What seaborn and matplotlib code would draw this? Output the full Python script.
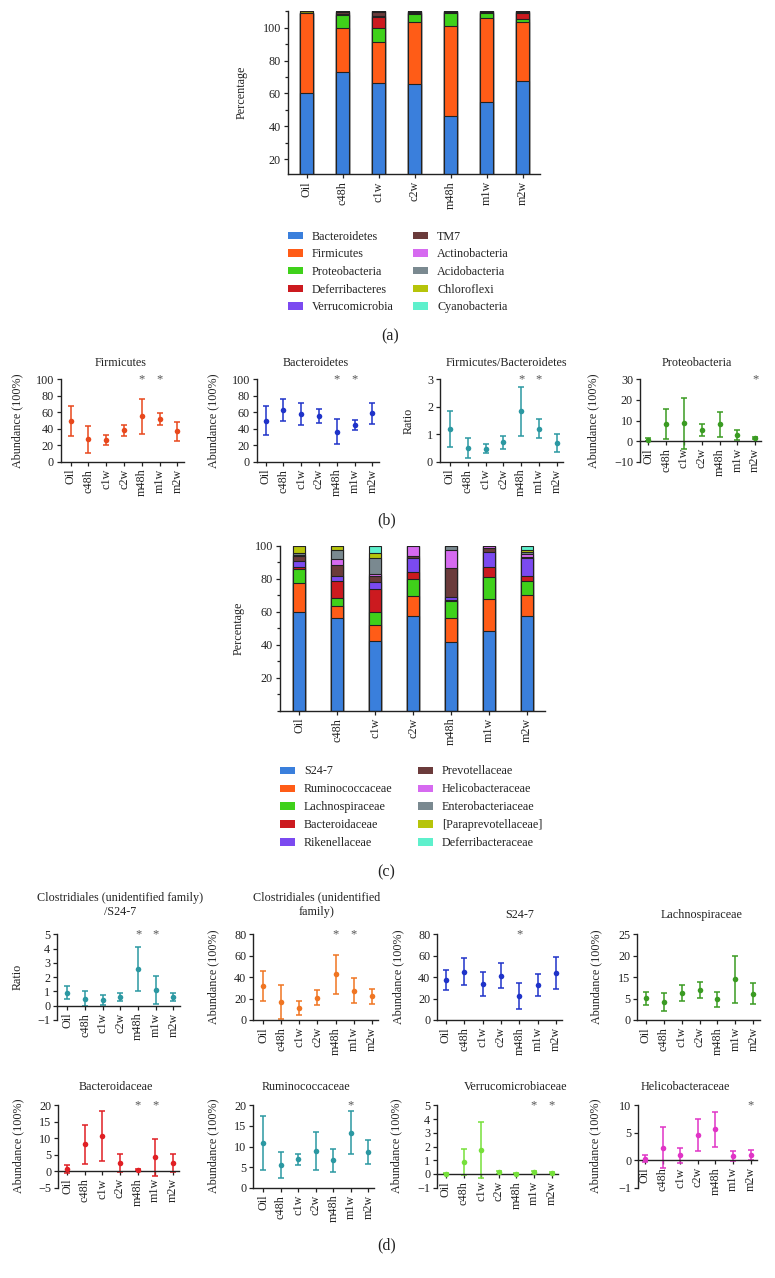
import numpy as np
import seaborn as sns
import matplotlib.pyplot as plt
from matplotlib.patches import Patch
from matplotlib.ticker import MultipleLocator

# canvas size in pixels (dpi 100)
W, H = 775, 1278
FS = 8.7

GROUPS = ["Oil", "c48h", "c1w", "c2w", "m48h", "m1w", "m2w"]

# (a) phylum composition, percentage per group
PHYLA = ["Bacteroidetes", "Firmicutes", "Proteobacteria", "Deferribacteres", "Verrucomicrobia",
         "TM7", "Actinobacteria", "Acidobacteria", "Chloroflexi", "Cyanobacteria"]
PHYLA_COLORS = ["#3a7fdc", "#ff5c17", "#3fd11a", "#cc1a1f", "#7b4af0",
                "#6b3b3b", "#d66af0", "#7a8990", "#b6c40a", "#5ef0cc"]
PHYLA_PCT = [
    [60.0, 73.1, 66.3, 65.7, 46.1, 54.6, 67.5],
    [48.9, 26.9, 25.2, 37.9, 54.7, 51.5, 36.1],
    [0.0, 7.9, 8.5, 4.9, 8.1, 2.6, 1.5],
    [0.0, 0.0, 6.5, 0.3, 0.2, 0.3, 3.9],
    [0.0, 0.6, 0.8, 0.2, 0.2, 0.2, 0.3],
    [0.0, 0.8, 2.5, 0.5, 0.5, 0.5, 0.5],
    [0.0, 0.3, 0.2, 0.3, 0.2, 0.2, 0.2],
    [0.0, 0.2, 0.0, 0.2, 0.0, 0.0, 0.0],
    [1.1, 0.2, 0.0, 0.0, 0.0, 0.0, 0.0],
    [0.0, 0.0, 0.0, 0.0, 0.0, 0.0, 0.0],
]

# (c) family composition, percentage per group
FAMILIES = ["S24-7", "Ruminococcaceae", "Lachnospiraceae", "Bacteroidaceae", "Rikenellaceae",
            "Prevotellaceae", "Helicobacteraceae", "Enterobacteriaceae", "[Paraprevotellaceae]",
            "Deferribacteraceae"]
FAMILY_PCT = [
    [60.2, 56.2, 42.6, 57.6, 41.6, 48.1, 57.8],
    [17.6, 7.4, 9.5, 12.3, 14.6, 19.6, 12.5],
    [8.5, 4.7, 7.7, 9.9, 10.3, 13.3, 8.5],
    [1.2, 10.7, 13.9, 4.2, 0.8, 6.1, 3.2],
    [3.2, 2.8, 4.7, 8.5, 2.0, 9.1, 10.5],
    [3.2, 6.7, 3.4, 1.4, 17.6, 2.6, 1.0],
    [0.4, 3.4, 1.0, 6.1, 10.7, 1.2, 1.8],
    [1.3, 5.7, 9.7, 0.0, 2.4, 0.0, 0.8],
    [4.4, 2.4, 3.4, 0.0, 0.0, 0.0, 1.2],
    [0.0, 0.0, 4.1, 0.0, 0.0, 0.0, 2.4],
]

# (b) and (d): mean and SD per group
FIRM_MEAN = [49, 27, 26, 38, 55, 52, 37]
FIRM_SD = [18, 16.5, 6, 7, 21, 7, 11.5]
BACT_MEAN = [49.5, 63, 58, 55.5, 36.5, 44.5, 58.5]
BACT_SD = [17.5, 13, 13.5, 8, 15.5, 6, 12.5]
FB_MEAN = [1.18, 0.5, 0.48, 0.71, 1.83, 1.2, 0.69]
FB_SD = [0.66, 0.38, 0.16, 0.24, 0.9, 0.35, 0.33]
PROTEO_MEAN = [0.7, 8.1, 8.7, 5.3, 8.2, 2.8, 1.3]
PROTEO_SD = [0.8, 7.3, 12.3, 2.8, 6.0, 2.5, 0.5]
CS_MEAN = [0.9, 0.5, 0.4, 0.58, 2.57, 1.1, 0.6]
CS_SD = [0.45, 0.5, 0.33, 0.28, 1.52, 1.0, 0.28]
CLOST_MEAN = [32, 17, 11, 21, 42.5, 27.5, 22]
CLOST_SD = [14, 16, 6.3, 7, 18.3, 11.5, 7.3]
S24_MEAN = [37.5, 45, 33.3, 41.5, 22.2, 32.5, 44.2]
S24_SD = [9.5, 12.5, 11.3, 12, 12.3, 10, 14.8]
LACHNO_MEAN = [5.1, 4.1, 6.4, 7.0, 4.8, 9.5, 6.1]
LACHNO_SD = [1.55, 2.1, 1.85, 1.85, 1.7, 5.5, 2.45]
BACTEROIDACEAE_MEAN = [0.6, 8.2, 10.8, 2.6, 0.4, 4.2, 2.4]
BACTEROIDACEAE_SD = [1.2, 5.9, 7.6, 2.7, 0.4, 5.5, 2.75]
RUMINO_MEAN = [10.8, 5.5, 6.9, 8.9, 6.7, 13.3, 8.7]
RUMINO_SD = [6.5, 3.2, 1.3, 4.5, 2.8, 5.2, 2.9]
VERRUCO_MEAN = [0.02, 0.87, 1.75, 0.12, 0.02, 0.12, 0.06]
VERRUCO_SD = [0.02, 0.97, 2.07, 0.1, 0.02, 0.12, 0.06]
HELICO_MEAN = [0.3, 2.3, 0.9, 4.6, 5.6, 0.8, 1.0]
HELICO_SD = [0.7, 3.7, 1.4, 2.9, 3.2, 0.9, 0.9]

sns.set_theme(style="ticks")
plt.rcParams["font.family"] = ["Liberation Serif", "DejaVu Serif"]

fig = plt.figure(figsize=(W / 100, H / 100), dpi=100)


def px_box(left, top, right, bottom):
    return [left / W, 1 - bottom / H, (right - left) / W, (bottom - top) / H]


def fig_text(x, y, s, **kw):
    fig.text(x / W, 1 - y / H, s, ha="center", va="center", fontsize=kw.pop("fontsize", FS),
             color="#222", **kw)


def style_axes(ax):
    sns.despine(ax=ax)
    for side in ("left", "bottom"):
        ax.spines[side].set_linewidth(1.0)
        ax.spines[side].set_color("#222")
    ax.tick_params(axis="both", which="major", length=3, width=0.9, pad=2,
                   labelsize=FS, colors="#222")
    ax.tick_params(axis="both", which="minor", length=2.5, width=0.9, colors="#222")
    ax.tick_params(axis="x", rotation=90)
    ax.set_xlabel("")
    ax.set_ylabel("")


def stacked_panel(box, values, colors, xlim, ylim, width):
    ax = fig.add_axes(px_box(*box))
    tops = np.cumsum(values, axis=0)
    # draw from the tallest cumulative layer down so each layer shows its own slice
    for k in range(len(values) - 1, -1, -1):
        sns.barplot(x=GROUPS, y=tops[k], color=colors[k], saturation=1, width=width,
                    edgecolor="#222", linewidth=0.8, ax=ax)
    ax.set_xlim(xlim)
    ax.set_ylim(ylim)
    ax.set_yticks(range(20, 101, 20))
    ax.yaxis.set_minor_locator(MultipleLocator(10))
    style_axes(ax)
    return ax


def legend_column(names, colors, x, ytop, spacing):
    handles = [Patch(facecolor=c, edgecolor="none") for c in colors]
    fig.legend(handles, names, loc="upper left", bbox_to_anchor=(x / W, 1 - ytop / H),
               frameon=False, borderpad=0, borderaxespad=0, fontsize=FS,
               handlelength=1.24, handleheight=0.55, handletextpad=0.75,
               labelspacing=spacing, labelcolor="#222")


def error_panel(box, xlim, mean, sd, color, ylim, yticks, stars, ytick_labels=None):
    ax = fig.add_axes(px_box(*box))
    ax.errorbar(GROUPS, mean, yerr=sd, fmt="none", ecolor=color, elinewidth=1.1,
                capsize=2, capthick=1.1, zorder=2)
    sns.scatterplot(x=GROUPS, y=mean, color=color, s=16, linewidth=0, ax=ax, zorder=3)
    ax.set_xlim(xlim)
    ax.set_ylim(ylim)
    ax.set_yticks(yticks, ytick_labels if ytick_labels else [f"{t:g}".replace("-", "\u2212") for t in yticks])
    if ylim[0] < 0:
        ax.spines["bottom"].set_position(("data", 0))
    style_axes(ax)
    for i in stars:
        ax.text(i, ylim[1], "*", ha="center", va="center", fontsize=9, color="#555",
                clip_on=False)
    return ax


# ---- (a) phylum stacked bars ----
stacked_panel((288, 10.5, 540, 174.3), PHYLA_PCT, PHYLA_COLORS, (-0.52, 6.48), (10.7, 110.5), 0.35)
fig_text(241.7, 92, "Percentage", rotation=90)
legend_column(PHYLA[:5], PHYLA_COLORS[:5], 288, 230.5, 0.47)
legend_column(PHYLA[5:], PHYLA_COLORS[5:], 413, 230.5, 0.47)
fig_text(390, 336, "(a)", fontsize=11.5)

# ---- (b) phylum level abundances ----
ROW_B = (379.3, 461.7)
error_panel((61, ROW_B[0], 183.7, ROW_B[1]), (-0.545, 6.35), FIRM_MEAN, FIRM_SD, "#e8481c",
            (0, 100), range(0, 101, 20), [4, 5])
error_panel((256.7, ROW_B[0], 378.6, ROW_B[1]), (-0.5, 6.35), BACT_MEAN, BACT_SD, "#1f33c9",
            (0, 100), range(0, 101, 20), [4, 5])
error_panel((440, ROW_B[0], 563, ROW_B[1]), (-0.56, 6.35), FB_MEAN, FB_SD, "#2b98a2",
            (0, 3), range(0, 4), [4, 5])
error_panel((640, ROW_B[0], 761.4, ROW_B[1]), (-0.47, 6.35), PROTEO_MEAN, PROTEO_SD, "#3a9b22",
            (-10, 30), range(-10, 31, 10), [6])
for x, t in [(121, "Firmicutes"), (315.5, "Bacteroidetes"),
             (506.7, "Firmicutes/Bacteroidetes"), (697, "Proteobacteria")]:
    fig_text(x, 362.7, t)
for x, t in [(17, "Abundance (100%)"), (213.3, "Abundance (100%)"),
             (408.3, "Ratio"), (593.3, "Abundance (100%)")]:
    fig_text(x, 420.5, t, rotation=90)
fig_text(387, 520, "(b)", fontsize=11.5)

# ---- (c) family stacked bars ----
stacked_panel((280, 546, 545, 710.7), FAMILY_PCT, PHYLA_COLORS, (-0.5, 6.47), (0, 100), 0.32)
fig_text(238.3, 628, "Percentage", rotation=90)
legend_column(FAMILIES[:5], PHYLA_COLORS[:5], 280, 765.5, 0.49)
legend_column(FAMILIES[5:], PHYLA_COLORS[5:], 418, 765.5, 0.49)
fig_text(386, 872, "(c)", fontsize=11.5)

# ---- (d) family level abundances ----
ROW_D1 = (934.3, 1020)
error_panel((57.3, ROW_D1[0], 179.6, ROW_D1[1]), (-0.57, 6.35), CS_MEAN, CS_SD, "#2b98a2",
            (-1, 5), range(-1, 6), [4, 5])
error_panel((253.3, ROW_D1[0], 378, ROW_D1[1]), (-0.55, 6.35), CLOST_MEAN, CLOST_SD, "#f07522",
            (0, 80), range(0, 81, 20), [4, 5])
error_panel((437.3, ROW_D1[0], 562.3, ROW_D1[1]), (-0.47, 6.35), S24_MEAN, S24_SD, "#1f33c9",
            (0, 80), range(0, 81, 20), [4])
error_panel((637.3, ROW_D1[0], 759.6, ROW_D1[1]), (-0.47, 6.35), LACHNO_MEAN, LACHNO_SD, "#3a9b22",
            (0, 20), range(0, 21, 5), [], ["0", "5", "15", "20", "25"])
fig_text(120, 905, "Clostridiales (unidentified family)\n/S24-7", linespacing=1.3)
fig_text(316.7, 905, "Clostridiales (unidentified\nfamily)", linespacing=1.3)
fig_text(520, 915, "S24-7")
fig_text(701.7, 915, "Lachnospiraceae")
for x, t in [(18, "Ratio"), (213.3, "Abundance (100%)"),
             (398.3, "Abundance (100%)"), (596.7, "Abundance (100%)")]:
    fig_text(x, 977, t, rotation=90)

ROW_D2 = (1105.3, 1187.7)
error_panel((58.3, ROW_D2[0], 178.8, ROW_D2[1]), (-0.51, 6.35), BACTEROIDACEAE_MEAN,
            BACTEROIDACEAE_SD, "#e01f24", (-5, 20), range(-5, 21, 5), [4, 5])
error_panel((253.3, ROW_D2[0], 374.4, ROW_D2[1]), (-0.57, 6.35), RUMINO_MEAN, RUMINO_SD,
            "#2b98a2", (0, 20), range(0, 21, 5), [5])
error_panel((437.3, ROW_D2[0], 557.7, ROW_D2[1]), (-0.49, 6.35), VERRUCO_MEAN, VERRUCO_SD,
            "#76e03a", (-1, 5), range(-1, 6), [5, 6])
error_panel((638.3, ROW_D2[0], 756.7, ROW_D2[1]), (-0.38, 6.35), HELICO_MEAN, HELICO_SD,
            "#e034c6", (-5, 10), range(-5, 11, 5), [6], ["\u22121", "0", "5", "10"])
for x, t in [(116, "Bacteroidaceae"), (306, "Ruminococcaceae"),
             (516, "Verrucomicrobiaceae"), (685, "Helicobacteraceae")]:
    fig_text(x, 1086.7, t)
for x in (18.3, 213.3, 396.7, 595):
    fig_text(x, 1146, "Abundance (100%)", rotation=90)
fig_text(387, 1245, "(d)", fontsize=11.5)

fig.savefig("out.png", dpi=100)
